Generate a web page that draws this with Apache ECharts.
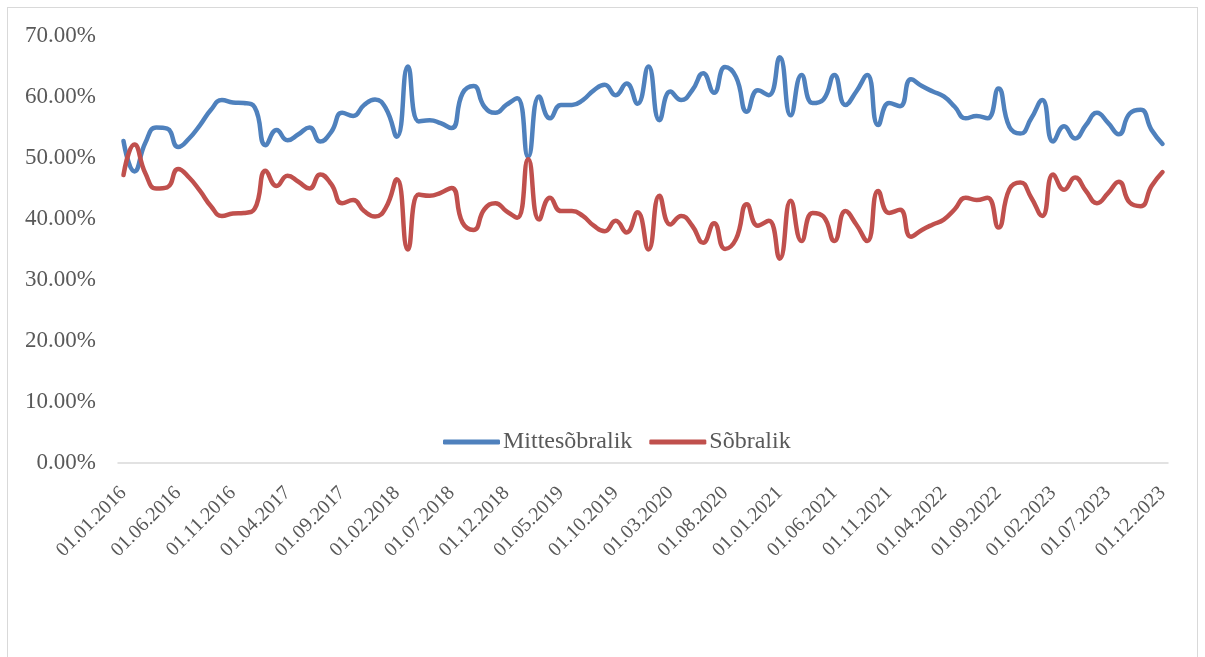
<!DOCTYPE html>
<html>
<head>
<meta charset="utf-8">
<title>Mittesõbralik / Sõbralik</title>
<script src="https://cdn.jsdelivr.net/npm/echarts@6/dist/echarts.min.js"></script>
<style>
  html, body { margin: 0; padding: 0; background: #ffffff; }
  #frame {
    position: absolute; left: 7px; top: 7px; width: 1191px; height: 700px;
    border: 1.5px solid #D9D9D9; box-sizing: border-box;
  }
  #chart { position: absolute; left: 0; top: 0; width: 1205px; height: 657px; }
</style>
</head>
<body>
<div id="frame"></div>
<div id="chart"></div>
<script>
// Monthly periods, 01.01.2016 – 01.12.2023
const startYear = 2016;
const monthCount = 96;
const categories = [];
for (let k = 0; k < monthCount; k++) {
  const y = startYear + Math.floor(k / 12);
  const m = (k % 12) + 1;
  categories.push('01.' + String(m).padStart(2, '0') + '.' + y);
}

// Share of respondents, %
const mittesobralik = [
  52.8, 47.8, 52.5, 55.0, 54.8, 51.8, 53.2, 55.4, 57.9, 59.5, 59.1, 59.0,
  58.3, 52.1, 54.6, 52.9, 53.9, 55.0, 52.7, 54.3, 57.4, 56.9, 58.7, 59.6,
  58.1, 53.5, 65.0, 56.0, 56.2, 55.7, 54.9, 60.6, 61.8, 58.4, 57.4, 58.7,
  59.8, 50.2, 60.1, 56.5, 58.7, 58.7, 59.5, 61.1, 62.0, 60.3, 62.2, 58.9,
  65.0, 56.2, 60.9, 59.5, 61.1, 63.9, 60.7, 64.9, 63.3, 57.6, 61.1, 60.3,
  66.5, 57.0, 63.6, 59.0, 59.6, 63.6, 58.7, 60.9, 63.6, 55.4, 59.0, 58.5,
  62.9, 61.8, 60.9, 60.1, 58.4, 56.5, 56.9, 56.5, 61.4, 55.1, 54.0, 56.5,
  59.5, 52.7, 55.2, 53.2, 55.4, 57.4, 55.8, 53.9, 57.3, 57.9, 54.6, 52.3
];
const sobralik = [
  47.2, 52.2, 47.5, 45.0, 45.2, 48.2, 46.8, 44.6, 42.1, 40.5, 40.9, 41.0,
  41.7, 47.9, 45.4, 47.1, 46.1, 45.0, 47.3, 45.7, 42.6, 43.1, 41.3, 40.4,
  41.9, 46.5, 35.0, 44.0, 43.8, 44.3, 45.1, 39.4, 38.2, 41.6, 42.6, 41.3,
  40.2, 49.8, 39.9, 43.5, 41.3, 41.3, 40.5, 38.9, 38.0, 39.7, 37.8, 41.1,
  35.0, 43.8, 39.1, 40.5, 38.9, 36.1, 39.3, 35.1, 36.7, 42.4, 38.9, 39.7,
  33.5, 43.0, 36.4, 41.0, 40.4, 36.4, 41.3, 39.1, 36.4, 44.6, 41.0, 41.5,
  37.1, 38.2, 39.1, 39.9, 41.6, 43.5, 43.1, 43.5, 38.6, 44.9, 46.0, 43.5,
  40.5, 47.3, 44.8, 46.8, 44.6, 42.6, 44.2, 46.1, 42.7, 42.1, 45.4, 47.7
];

const seriesNames = ['Mittesõbralik', 'Sõbralik'];
const seriesColors = ['#4F81BD', '#C0504D'];

const serif = '"Liberation Serif", "Times New Roman", serif';
const textGray = '#595959';

const chart = echarts.init(document.getElementById('chart'), null, { renderer: 'canvas' });
chart.setOption({
  animation: false,
  backgroundColor: 'transparent',
  grid: { left: 118, right: 37, top: 36, height: 427, containLabel: false },
  legend: {
    data: seriesNames.map(function (n) { return { name: n, icon: 'roundRect' }; }),
    left: 438,
    top: 425,
    itemWidth: 57,
    itemHeight: 5,
    itemGap: 17,
    textStyle: { fontFamily: serif, fontSize: 24, color: textGray, padding: [0, 0, 0, -2] }
  },
  xAxis: {
    type: 'category',
    data: categories,
    boundaryGap: true,
    axisLine: { lineStyle: { color: '#D9D9D9', width: 1.5 } },
    axisTick: { show: false },
    axisLabel: {
      interval: 4,
      rotate: 45,
      margin: 27,
      fontFamily: serif,
      fontSize: 20,
      color: textGray
    },
    splitLine: { show: false }
  },
  yAxis: {
    type: 'value',
    min: 0,
    max: 70,
    interval: 10,
    axisLine: { show: false },
    axisTick: { show: false },
    splitLine: { show: false },
    axisLabel: {
      margin: 22,
      fontFamily: serif,
      fontSize: 23,
      color: textGray,
      formatter: function (v) { return v.toFixed(2) + '%'; }
    }
  },
  series: [
    {
      name: seriesNames[0],
      type: 'line',
      data: mittesobralik,
      smooth: 0.5,
      symbol: 'none',
      color: seriesColors[0],
      lineStyle: { width: 4.5, color: seriesColors[0], cap: 'round', join: 'round' }
    },
    {
      name: seriesNames[1],
      type: 'line',
      data: sobralik,
      smooth: 0.5,
      symbol: 'none',
      color: seriesColors[1],
      lineStyle: { width: 4.5, color: seriesColors[1], cap: 'round', join: 'round' }
    }
  ]
});
</script>
</body>
</html>
